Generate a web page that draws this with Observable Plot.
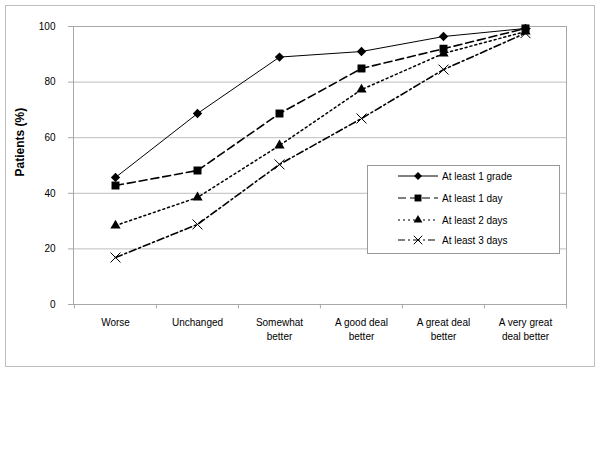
<!DOCTYPE html>
<html>
<head>
<meta charset="utf-8">
<script src="https://cdn.jsdelivr.net/npm/d3@7"></script>
<script src="https://cdn.jsdelivr.net/npm/@observablehq/plot@0.6"></script>
<style>
  body { margin: 0; background: #fff; font-family: "Liberation Sans", Arial, sans-serif; }
  #wrap { position: relative; width: 600px; height: 450px; }
  #border { position: absolute; left: 5px; top: 5px; width: 588px; height: 360px; border: 1px solid #bdbdbd; pointer-events: none; }
  #legend { position: absolute; left: 367px; top: 165px; }
  #chart { position: absolute; left: 0; top: 0; }
</style>
</head>
<body>
<div id="wrap"><div id="chart"></div><div id="legend"></div><div id="border"></div></div>
<script>
const categories = ["Worse", "Unchanged", "Somewhat\nbetter", "A good deal\nbetter", "A great deal\nbetter", "A very great\ndeal better"];
const seriesNames = ["At least 1 grade", "At least 1 day", "At least 2 days", "At least 3 days"];
const grade1 = [45.7, 68.7, 89, 91, 96.4, 99.3];
const day1   = [42.8, 48.2, 68.7, 84.9, 92, 99.3];
const days2  = [28.4, 38.5, 57.2, 77.3, 90.3, 98.2];
const days3  = [16.9, 28.8, 50.4, 66.9, 84.5, 97.6];
const yTicks = [0, 20, 40, 60, 80, 100];

const seriesValues = [grade1, day1, days2, days3];
const styles = [
  {dash: null, width: 1, symbol: "diamond2", r: 4.2},
  {dash: "8,4", width: 1.6, symbol: "square", r: 4.5},
  {dash: "2,3", width: 1.5, symbol: "triangle", r: 3.8},
  {dash: "7,3,2,3", width: 1.6, symbol: "times", r: 4.6}
];

const data = seriesNames.flatMap((s, i) => categories.map((c, j) => ({series: s, cat: c, value: seriesValues[i][j]})));

const W = 600, H = 370, ML = 73, MR = 34, MT = 26, MB = 66;
const half = (W - ML - MR) / categories.length / 2;
const FS = 10;

const marks = [
  Plot.gridY(yTicks.slice(1), {stroke: "#bdbdbd", strokeOpacity: 1}),
  Plot.frame({stroke: "#a8a8a8"}),
  Plot.axisY(yTicks, {tickSize: 5, tickPadding: 13, fontSize: FS, stroke: "#a8a8a8", label: null, fill: "#000"}),
  Plot.axisX({tickSize: 0, tickPadding: 12, fontSize: FS, lineHeight: 1.4, label: null, textAnchor: "middle", fill: "#000"}),
  Plot.ruleX(categories, {x: d => d, dx: -half, y1: 0, y2: -1.6, stroke: "#a8a8a8"}),
  Plot.ruleX(categories.slice(-1), {x: d => d, dx: half, y1: 0, y2: -1.6, stroke: "#a8a8a8"}),
  Plot.text(["Patients (%)"], {frameAnchor: "left", dx: -53, dy: 11, rotate: -90, fontWeight: "bold", fontSize: 12, fill: "#000"})
];
seriesNames.forEach((s, i) => {
  const st = styles[i];
  const d = data.filter(e => e.series === s);
  marks.push(Plot.line(d, {x: "cat", y: "value", stroke: "#000", strokeWidth: st.width, strokeDasharray: st.dash}));
});
seriesNames.forEach((s, i) => {
  const st = styles[i];
  const d = data.filter(e => e.series === s);
  const filled = st.symbol !== "times";
  marks.push(Plot.dot(d, {x: "cat", y: "value", symbol: () => st.symbol, r: st.r,
    fill: filled ? "#000" : "none", stroke: filled ? "none" : "#000", strokeWidth: 1}));
});

const chart = Plot.plot({
  width: W, height: H,
  marginLeft: ML, marginRight: MR, marginTop: MT, marginBottom: MB,
  style: {fontFamily: "'Liberation Sans', Arial, sans-serif", background: "#fff", color: "#000"},
  x: {type: "point", domain: categories, padding: 0.5, axis: null},
  y: {domain: [0, 100], axis: null},
  symbol: {type: "identity"},
  marks
});
document.getElementById("chart").appendChild(chart);

// Legend
const LW = 192, LH = 88;
const lg = d3.select("#legend").append("svg").attr("width", LW + 1).attr("height", LH + 1)
  .style("font-family", "'Liberation Sans', Arial, sans-serif");
lg.append("rect").attr("x", 0.5).attr("y", 0.5).attr("width", LW).attr("height", LH)
  .attr("fill", "#fff").attr("stroke", "#999");
const rowY = [11, 33, 55, 75];
const symMap = {diamond2: d3.symbolDiamond2, square: d3.symbolSquare, triangle: d3.symbolTriangle, times: d3.symbolTimes};
seriesNames.forEach((s, i) => {
  const st = styles[i];
  const g = lg.append("g").attr("transform", `translate(0,${rowY[i]})`);
  g.append("line").attr("x1", 31).attr("x2", 71).attr("y1", 0).attr("y2", 0)
    .attr("stroke", "#000").attr("stroke-width", st.width === 1 ? 1 : 1.2)
    .attr("stroke-dasharray", st.dash);
  const size = Math.PI * st.r * st.r * 0.75;
  const filled = st.symbol !== "times";
  g.append("path").attr("transform", "translate(51,0)").attr("d", d3.symbol(symMap[st.symbol], size)())
    .attr("fill", filled ? "#000" : "none").attr("stroke", filled ? "none" : "#000");
  g.append("text").attr("x", 75).attr("y", 0).attr("dy", "0.35em").attr("font-size", FS).text(s);
});
</script>
</body>
</html>
